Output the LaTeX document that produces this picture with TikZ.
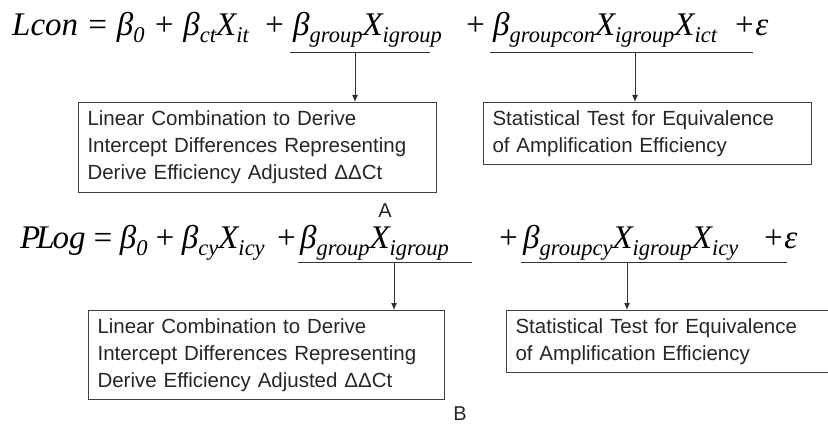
\documentclass[tikz,border=0pt]{standalone}
\usepackage{fontspec}
\setmainfont{Liberation Serif}
\newfontfamily\boxfont{Liberation Sans}
\usetikzlibrary{arrows.meta,calc}
\newcommand{\sbs}[1]{\raisebox{-7pt}{\fontsize{22.5}{22.5}\selectfont\itshape #1}}
\tikzstyle{eq}=[anchor=base west,inner sep=0pt,
  font=\fontsize{33}{33}\selectfont\itshape]
\tikzstyle{bx}=[draw=black!75,line width=1.1pt,anchor=north west,inner xsep=9pt,
  inner ysep=0pt,align=left,text=black!85,font=\boxfont\fontsize{20.5}{27}\selectfont]
\tikzstyle{uline}=[line width=1pt,draw=black!80]
\tikzstyle{pointer}=[line width=1pt,draw=black!80,-{Latex[length=7pt,width=6pt]}]
\tikzstyle{tag}=[inner sep=0pt,text=black!85,font=\boxfont\fontsize{20}{20}\selectfont]
\tikzstyle{none}=[]

\begin{document}
\begin{tikzpicture}[x=1pt,y=-1pt]
            \clip (0,0) rectangle (828,425);
            % model A
            \node [style=eq] (0) at (12,36) {Lcon = β\sbs{0} + β\sbs{ct}X\sbs{it}};
            \node [style=eq] (1) at (263,36) {+};
            \node [style=eq] (2) at (293,36) {β\sbs{group}X\sbs{igroup}};
            \node [style=eq] (3) at (464,36) {+};
            \node [style=eq] (4) at (493,36) {β\sbs{groupcon}X\sbs{igroup}X\sbs{ict}};
            \node [style=eq] (5) at (733,36) {+ε};
            \node [style=none] (6) at (290,53) {};
            \node [style=none] (7) at (430,53) {};
            \node [style=none] (8) at (490,53) {};
            \node [style=none] (9) at (753,53) {};
            \node [style=none] (10) at (355,53) {};
            \node [style=none] (11) at (635,53) {};
            \node [style=bx, text width=340pt, minimum height=90pt] (12) at (78,102)
              {Linear Combination to Derive\\Intercept Differences Representing\\Derive Efficiency Adjusted ΔΔCt};
            \node [style=bx, text width=310pt, minimum height=62pt] (13) at (483,102)
              {Statistical Test for Equivalence\\of Amplification Efficiency};
            \node [style=tag] (14) at (385,211) {A};
            % model B
            \node [style=eq] (15) at (20,248) {P\kern-4pt L\kern-2pt og\hspace{6pt}=\hspace{6pt}β\sbs{0}\hspace{6pt}+\hspace{6pt}β\sbs{cy}X\sbs{icy}};
            \node [style=eq] (16) at (275,248) {+};
            \node [style=eq] (17) at (300,248) {β\sbs{group}X\sbs{igroup}};
            \node [style=eq] (18) at (497,248) {+};
            \node [style=eq] (19) at (523,248) {β\sbs{groupcy}X\sbs{igroup}X\sbs{icy}};
            \node [style=eq] (20) at (762,248) {+ε};
            \node [style=none] (21) at (298,262) {};
            \node [style=none] (22) at (472,262) {};
            \node [style=none] (23) at (521,262) {};
            \node [style=none] (24) at (787,262) {};
            \node [style=none] (25) at (394,262) {};
            \node [style=none] (26) at (627,262) {};
            \node [style=bx, text width=338pt, minimum height=89pt] (27) at (88,310)
              {Linear Combination to Derive\\Intercept Differences Representing\\Derive Efficiency Adjusted ΔΔCt};
            \node [style=bx, text width=312pt, minimum height=62pt] (28) at (506,310)
              {Statistical Test for Equivalence\\of Amplification Efficiency};
            \node [style=tag] (29) at (460,414) {B};
            \draw [style=uline] (6.center) to (7.center);
            \draw [style=uline] (8.center) to (9.center);
            \draw [style=pointer] (10.center) to (10.center |- 12.north);
            \draw [style=pointer] (11.center) to (11.center |- 13.north);
            \draw [style=uline] (21.center) to (22.center);
            \draw [style=uline] (23.center) to (24.center);
            \draw [style=pointer] (25.center) to (25.center |- 27.north);
            \draw [style=pointer] (26.center) to (26.center |- 28.north);
\end{tikzpicture}
\end{document}
